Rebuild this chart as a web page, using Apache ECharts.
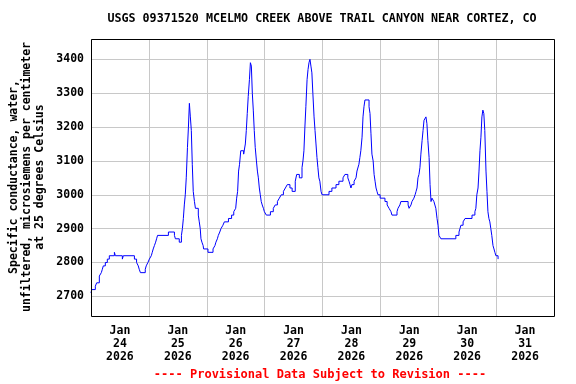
<!DOCTYPE html>
<html>
<head>
<meta charset="utf-8">
<script src="https://cdn.jsdelivr.net/npm/echarts@6/dist/echarts.min.js"></script>
<style>html,body{margin:0;padding:0;background:#fff}#c{width:576px;height:384px}</style>
</head>
<body>
<div id="c"></div>
<script>
// Hours since Jan 24 2026 00:00
const hoursSinceJan24 = [0,0.3,1.8,2.35,3.46,4.28,4.7,5.1,5.94,6.77,7.6,9.7,10.1,13.0,13.4,18.0,18.9,19.6,20.0,20.5,22.5,22.9,23.6,24.2,25.0,25.4,25.8,26.3,26.8,27.2,27.6,32.1,34.6,35.0,36.6,37.5,37.9,38.3,38.7,39.1,39.5,40.0,40.4,40.8,41.2,41.6,42.0,42.4,42.9,43.3,44.5,44.9,45.3,45.6,46.0,46.5,46.7,48.5,50.6,51.4,51.8,52.4,52.8,53.4,53.9,54.7,55.3,57.0,58.3,59.2,60.0,60.4,60.8,61.2,61.6,62.1,63.3,64.0,64.4,64.8,65.2,65.7,66.1,66.5,66.9,67.3,67.7,68.1,68.6,69.0,69.4,69.8,70.2,70.6,71.0,71.5,71.9,72.7,74.4,75.6,76.4,77.3,78.1,78.9,79.8,80.6,81.4,82.5,83.4,84.7,85.3,86.4,87.5,87.9,88.3,88.7,89.1,89.6,90.0,90.4,90.8,91.2,91.6,92.0,92.5,92.9,93.3,93.7,94.1,94.5,94.9,95.4,95.8,98.7,99.9,101.6,102.8,104.5,105.3,106.5,107.0,107.4,107.8,108.2,109.1,109.9,110.3,111.1,111.5,111.9,112.4,112.8,113.2,113.6,115.3,115.7,116.1,116.5,117.0,117.4,117.8,118.2,118.6,119.0,119.9,121.9,122.8,123.6,124.4,124.8,126.9,127.3,128.1,128.5,131.5,131.9,132.7,133.1,133.9,134.4,134.8,135.2,135.6,136.0,136.4,136.8,137.3,137.7,138.1,138.9,139.3,139.7,140.2,140.6,141.0,141.4,142.2,143.0,143.5,143.9,144.3,145.1,151.3,152.6,153.0,153.4,154.3,155.1,158.0,159.2,159.6,160.0,160.5,160.9,161.3,161.7,162.1,162.5,162.9,163.3,163.8,164.2,164.6,165.0,165.4,165.8,166.2,166.7,167.1,167.5,167.9,168.8,169.0];
const conductance = [2710,2720,2730,2740,2760,2770,2780,2790,2800,2810,2820,2830,2820,2810,2820,2810,2800,2790,2780,2770,2780,2790,2800,2810,2820,2830,2840,2850,2860,2870,2880,2890,2880,2870,2860,2880,2900,2930,2970,3000,3050,3140,3200,3270,3230,3190,3090,3010,2980,2960,2940,2920,2900,2870,2860,2850,2840,2830,2840,2850,2860,2870,2880,2890,2900,2910,2920,2930,2940,2950,2960,2990,3010,3070,3090,3130,3120,3150,3190,3240,3290,3340,3390,3380,3300,3250,3190,3140,3100,3070,3050,3020,3000,2980,2970,2960,2950,2940,2950,2960,2970,2980,2990,3000,3010,3020,3030,3020,3010,3040,3060,3050,3080,3100,3130,3200,3260,3340,3370,3390,3400,3380,3360,3300,3230,3190,3150,3110,3080,3050,3040,3010,3000,3010,3020,3030,3040,3050,3060,3050,3040,3030,3020,3030,3040,3050,3070,3090,3110,3130,3170,3230,3260,3280,3260,3240,3180,3120,3100,3060,3040,3020,3010,3000,2990,2980,2970,2960,2950,2940,2950,2960,2970,2980,2970,2960,2970,2980,2990,3000,3010,3020,3050,3060,3080,3120,3160,3190,3220,3230,3210,3160,3110,3030,2980,2990,2980,2960,2930,2910,2880,2870,2880,2890,2900,2910,2920,2930,2940,2950,2960,3000,3020,3070,3130,3170,3230,3250,3240,3190,3070,3010,2950,2930,2920,2900,2880,2850,2840,2830,2820,2810,2810];
const yTicks = [2700,2800,2900,3000,3100,3200,3300,3400];
const dayLabelHours = [12,36,60,84,108,132,156,180];
const dayLabels = ['Jan\n24\n2026','Jan\n25\n2026','Jan\n26\n2026','Jan\n27\n2026','Jan\n28\n2026','Jan\n29\n2026','Jan\n30\n2026','Jan\n31\n2026'];
const titleText = 'USGS 09371520 MCELMO CREEK ABOVE TRAIL CANYON NEAR CORTEZ, CO';
const yTitle = 'Specific conductance, water,\nunfiltered, microsiemens per centimeter\nat 25 degrees Celsius';
const footText = '---- Provisional Data Subject to Revision ----';

const FONT = '"DejaVu Sans Mono", "Liberation Mono", monospace';
const chart = echarts.init(document.getElementById('c'), null, {renderer: 'canvas'});
chart.setOption({
  animation: false,
  backgroundColor: '#fff',
  grid: {left: 91, right: 22, top: 39, bottom: 68, show: false},
  xAxis: {
    type: 'value', min: 0, max: 192, interval: 24,
    axisLine: {show: false},
    axisTick: {show: false},
    splitLine: {show: true, lineStyle: {color: '#c8c8c8', width: 1}},
    axisLabel: {
      customValues: dayLabelHours,
      formatter: v => dayLabels[dayLabelHours.indexOf(v)] || '',
      fontFamily: FONT, fontWeight: 'bold', fontSize: 11.5, color: '#000',
      lineHeight: 13, margin: 9
    }
  },
  yAxis: {
    type: 'value', min: 2642, max: 3460,
    axisLine: {show: false},
    axisTick: {show: false, customValues: yTicks},
    splitLine: {show: true, lineStyle: {color: '#c8c8c8', width: 1}},
    axisLabel: {
      customValues: yTicks,
      formatter: v => String(v),
      fontFamily: FONT, fontWeight: 'bold', fontSize: 11.5, color: '#000', margin: 7
    }
  },
  series: [{
    type: 'line',
    step: 'end',
    data: hoursSinceJan24.map((h, i) => [h, conductance[i]]),
    showSymbol: false,
    lineStyle: {color: '#0000ff', width: 1},
    z: 5
  }],
  graphic: [
    {type: 'rect', z: 10, silent: true, shape: {x: 91.5, y: 39.5, width: 463, height: 277}, style: {fill: 'none', stroke: '#000', lineWidth: 1}},
    {type: 'text', x: 322, y: 19, style: {text: titleText, fill: '#000', font: 'bold 11.7px ' + FONT, align: 'center', verticalAlign: 'middle'}},
    {type: 'text', x: 27, y: 177, rotation: Math.PI / 2, style: {text: yTitle, fill: '#000', font: 'bold 11.5px ' + FONT, align: 'center', verticalAlign: 'middle', lineHeight: 13}},
    {type: 'text', x: 320, y: 375, style: {text: footText, fill: '#ff0000', font: 'bold 12px ' + FONT, align: 'center', verticalAlign: 'middle'}}
  ]
});
</script>
</body>
</html>
